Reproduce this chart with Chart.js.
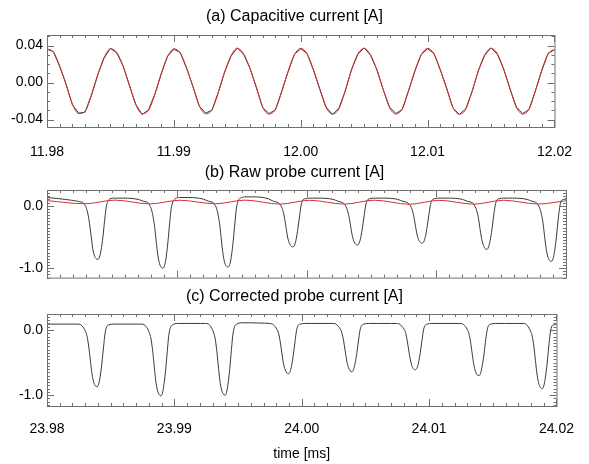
<!DOCTYPE html>
<html>
<head>
<meta charset="utf-8">
<script src="https://cdn.jsdelivr.net/npm/chart.js@4.4.1/dist/chart.umd.min.js"></script>
<style>
html, body { margin: 0; padding: 0; background: #fff; }
#wrap { position: relative; width: 589px; height: 464px; overflow: hidden; }
#wrap canvas { position: absolute; left: 0; }
</style>
</head>
<body>
<div id="wrap">
  <canvas id="chartA" width="589" height="170" style="top:0px"></canvas>
  <canvas id="chartB" width="589" height="130" style="top:160px"></canvas>
  <canvas id="chartC" width="589" height="179" style="top:285px"></canvas>
</div>
<script>
// ---- panel (a): capacitive current, time in ms ----
const timeA = [
  11.9800, 11.9805, 11.9810, 11.9815, 11.9820, 11.9825, 11.9830, 11.9835, 11.9840, 11.9845,
  11.9850, 11.9855, 11.9860, 11.9865, 11.9870, 11.9875, 11.9880, 11.9885, 11.9890, 11.9895,
  11.9900, 11.9905, 11.9910, 11.9915, 11.9920, 11.9925, 11.9930, 11.9935, 11.9940, 11.9945,
  11.9950, 11.9955, 11.9960, 11.9965, 11.9970, 11.9975, 11.9980, 11.9985, 11.9990, 11.9995,
  12.0000, 12.0005, 12.0010, 12.0015, 12.0020, 12.0025, 12.0030, 12.0035, 12.0040, 12.0045,
  12.0050, 12.0055, 12.0060, 12.0065, 12.0070, 12.0075, 12.0080, 12.0085, 12.0090, 12.0095,
  12.0100, 12.0105, 12.0110, 12.0115, 12.0120, 12.0125, 12.0130, 12.0135, 12.0140, 12.0145,
  12.0150, 12.0155, 12.0160, 12.0165, 12.0170, 12.0175, 12.0180, 12.0185, 12.0190, 12.0195,
  12.0200
];
// measured (black, noisy)
const capMeasured = [
  0.0360, 0.0335, 0.0175, -0.0015, -0.0240, -0.0330, -0.0320, -0.0135, 0.0085, 0.0265,
  0.0370, 0.0320, 0.0180, -0.0035, -0.0235, -0.0345, -0.0295, -0.0125, 0.0090, 0.0285,
  0.0360, 0.0325, 0.0155, -0.0040, -0.0255, -0.0330, -0.0300, -0.0105, 0.0115, 0.0285,
  0.0375, 0.0305, 0.0155, -0.0050, -0.0270, -0.0335, -0.0295, -0.0095, 0.0115, 0.0305,
  0.0365, 0.0315, 0.0135, -0.0072, -0.0265, -0.0345, -0.0280, -0.0095, 0.0140, 0.0305,
  0.0375, 0.0295, 0.0140, -0.0078, -0.0265, -0.0335, -0.0290, -0.0085, 0.0125, 0.0305,
  0.0365, 0.0315, 0.0135, -0.0060, -0.0275, -0.0345, -0.0285, -0.0100, 0.0130, 0.0295,
  0.0375, 0.0305, 0.0145, -0.0072, -0.0265, -0.0335, -0.0290, -0.0085, 0.0130, 0.0315,
  0.0355
];
// fitted (red, smooth)
const capFit = [
  0.0365, 0.0330, 0.0180, -0.0020, -0.0230, -0.0335, -0.0310, -0.0140, 0.0080, 0.0270,
  0.0365, 0.0325, 0.0175, -0.0027, -0.0240, -0.0335, -0.0300, -0.0130, 0.0095, 0.0280,
  0.0365, 0.0320, 0.0160, -0.0045, -0.0250, -0.0337, -0.0295, -0.0110, 0.0110, 0.0290,
  0.0370, 0.0310, 0.0150, -0.0055, -0.0265, -0.0340, -0.0290, -0.0100, 0.0120, 0.0300,
  0.0370, 0.0310, 0.0140, -0.0067, -0.0270, -0.0340, -0.0285, -0.0090, 0.0135, 0.0310,
  0.0370, 0.0300, 0.0135, -0.0073, -0.0270, -0.0340, -0.0285, -0.0090, 0.0130, 0.0300,
  0.0370, 0.0310, 0.0140, -0.0065, -0.0270, -0.0340, -0.0290, -0.0095, 0.0125, 0.0300,
  0.0370, 0.0310, 0.0140, -0.0067, -0.0270, -0.0340, -0.0285, -0.0090, 0.0135, 0.0310,
  0.0360
];
const ticksXA = [11.98, 11.99, 12.00, 12.01, 12.02];
const labelsXA = ['11.98', '11.99', '12.00', '12.01', '12.02'];
const ticksYA = [-0.04, 0.00, 0.04];
const labelsYA = ['-0.04', '0.00', '0.04'];

// ---- panels (b) and (c): probe current, time in ms ----
const timeP = [
  23.98000, 23.98140,
  23.98242, 23.98263, 23.98276, 23.98289, 23.98302, 23.98315, 23.98328, 23.98340, 23.98353, 23.98367, 23.98380,
  23.98392, 23.98405, 23.98417, 23.98431, 23.98444, 23.98456, 23.98469, 23.98487, 23.98521, 23.98592, 23.98702,
  23.98743, 23.98764, 23.98777, 23.98790, 23.98803, 23.98816, 23.98829, 23.98841, 23.98854, 23.98868, 23.98881,
  23.98893, 23.98906, 23.98918, 23.98932, 23.98945, 23.98957, 23.98970, 23.98988, 23.99022, 23.99093, 23.99203,
  23.99246, 23.99267, 23.99280, 23.99293, 23.99306, 23.99319, 23.99332, 23.99344, 23.99357, 23.99371, 23.99384,
  23.99396, 23.99409, 23.99421, 23.99435, 23.99448, 23.99460, 23.99473, 23.99491, 23.99525, 23.99596, 23.99706,
  23.99745, 23.99766, 23.99779, 23.99792, 23.99805, 23.99818, 23.99831, 23.99843, 23.99856, 23.99870, 23.99883,
  23.99895, 23.99908, 23.99920, 23.99934, 23.99947, 23.99959, 23.99972, 23.99990, 24.00024, 24.00095, 24.00205,
  24.00243, 24.00264, 24.00277, 24.00290, 24.00303, 24.00316, 24.00329, 24.00341, 24.00354, 24.00368, 24.00381,
  24.00393, 24.00406, 24.00418, 24.00432, 24.00445, 24.00457, 24.00470, 24.00488, 24.00522, 24.00593, 24.00703,
  24.00742, 24.00763, 24.00776, 24.00789, 24.00802, 24.00815, 24.00828, 24.00840, 24.00853, 24.00867, 24.00880,
  24.00892, 24.00905, 24.00917, 24.00931, 24.00944, 24.00956, 24.00969, 24.00987, 24.01021, 24.01092, 24.01202,
  24.01240, 24.01261, 24.01274, 24.01287, 24.01300, 24.01313, 24.01326, 24.01338, 24.01351, 24.01365, 24.01378,
  24.01390, 24.01403, 24.01415, 24.01429, 24.01442, 24.01454, 24.01467, 24.01485, 24.01519, 24.01590, 24.01700,
  24.01737, 24.01758, 24.01771, 24.01784, 24.01797, 24.01810, 24.01823, 24.01835, 24.01848, 24.01862, 24.01875,
  24.01887, 24.01900, 24.01912, 24.01926, 24.01939, 24.01951, 24.01964, 24.01982, 24.02000
];
const rawProbe = [
  0.13, 0.10,
  0.068, 0.058, 0.05, 0.02, -0.03, -0.13, -0.29, -0.48, -0.69, -0.81, -0.85,
  -0.86, -0.82, -0.71, -0.50, -0.24, -0.03, 0.07, 0.11, 0.12, 0.12, 0.10,
  0.07, 0.06, 0.05, 0.01, -0.05, -0.16, -0.33, -0.56, -0.79, -0.93, -0.985,
  -1.00, -0.96, -0.83, -0.58, -0.29, -0.05, 0.06, 0.11, 0.13, 0.13, 0.105,
  0.07, 0.06, 0.05, 0.015, -0.04, -0.15, -0.32, -0.55, -0.78, -0.92, -0.97,
  -0.98, -0.94, -0.81, -0.57, -0.28, -0.04, 0.08, 0.12, 0.14, 0.14, 0.11,
  0.07, 0.06, 0.05, 0.03, -0.01, -0.08, -0.20, -0.36, -0.52, -0.61, -0.65,
  -0.66, -0.63, -0.54, -0.36, -0.16, 0.01, 0.09, 0.11, 0.12, 0.12, 0.10,
  0.07, 0.06, 0.05, 0.03, -0.01, -0.08, -0.19, -0.34, -0.49, -0.58, -0.62,
  -0.63, -0.60, -0.51, -0.34, -0.15, 0.01, 0.09, 0.11, 0.12, 0.12, 0.10,
  0.07, 0.06, 0.05, 0.03, -0.005, -0.07, -0.18, -0.33, -0.47, -0.56, -0.59,
  -0.60, -0.57, -0.49, -0.32, -0.14, 0.02, 0.09, 0.11, 0.12, 0.12, 0.10,
  0.07, 0.06, 0.05, 0.03, -0.015, -0.09, -0.21, -0.38, -0.54, -0.64, -0.69,
  -0.70, -0.66, -0.56, -0.38, -0.17, 0.00, 0.09, 0.11, 0.12, 0.12, 0.10,
  0.07, 0.06, 0.05, 0.015, -0.04, -0.13, -0.28, -0.49, -0.70, -0.83, -0.88,
  -0.89, -0.85, -0.73, -0.50, -0.24, -0.03, 0.08, 0.10, 0.11
];
const correctedProbe = [
  0.09, 0.09,
  0.09, 0.082, 0.061, 0.026, -0.022, -0.10, -0.26, -0.46, -0.67, -0.80, -0.856,
  -0.87, -0.83, -0.72, -0.51, -0.26, -0.05, 0.05, 0.08, 0.09, 0.09, 0.09,
  0.09, 0.081, 0.057, 0.016, -0.039, -0.13, -0.31, -0.54, -0.78, -0.93, -0.99,
  -1.01, -0.97, -0.84, -0.60, -0.31, -0.07, 0.04, 0.08, 0.10, 0.10, 0.10,
  0.10, 0.091, 0.067, 0.026, -0.03, -0.12, -0.30, -0.53, -0.77, -0.92, -0.98,
  -1.00, -0.96, -0.83, -0.59, -0.30, -0.06, 0.05, 0.09, 0.11, 0.11, 0.105,
  0.10, 0.094, 0.077, 0.05, 0.01, -0.05, -0.18, -0.34, -0.51, -0.61, -0.66,
  -0.67, -0.64, -0.55, -0.38, -0.18, -0.01, 0.07, 0.09, 0.10, 0.10, 0.10,
  0.10, 0.094, 0.078, 0.05, 0.013, -0.05, -0.17, -0.32, -0.48, -0.58, -0.63,
  -0.64, -0.61, -0.52, -0.36, -0.17, -0.01, 0.07, 0.09, 0.10, 0.10, 0.10,
  0.10, 0.094, 0.079, 0.05, 0.017, -0.04, -0.16, -0.31, -0.46, -0.56, -0.60,
  -0.61, -0.58, -0.50, -0.34, -0.16, 0.00, 0.07, 0.09, 0.10, 0.10, 0.10,
  0.10, 0.094, 0.076, 0.05, 0.006, -0.06, -0.19, -0.36, -0.53, -0.64, -0.69,
  -0.70, -0.67, -0.57, -0.40, -0.19, -0.02, 0.07, 0.09, 0.10, 0.10, 0.10,
  0.10, 0.092, 0.07, 0.03, -0.02, -0.10, -0.26, -0.47, -0.69, -0.83, -0.885,
  -0.90, -0.86, -0.74, -0.52, -0.26, -0.05, 0.06, 0.08, 0.09
];
// capacitive part seen by the probe (red in b)
const timeCapB = [
  23.98000, 23.98292, 23.98522, 23.98793, 23.99023, 23.99296, 23.99526, 23.99795, 24.00025,
  24.00293, 24.00523, 24.00792, 24.01022, 24.01290, 24.01520, 24.01787, 24.02000
];
const capProbe = [
  0.080, 0.030, 0.088, 0.028, 0.086, 0.030, 0.088, 0.025, 0.085,
  0.025, 0.087, 0.022, 0.085, 0.024, 0.086, 0.026, 0.078
];
const ticksXP = [23.98, 23.99, 24.00, 24.01, 24.02];
const labelsXP = ['23.98', '23.99', '24.00', '24.01', '24.02'];
const ticksYP = [-1.0, 0.0];
const labelsYP = ['-1.0', '0.0'];

const FONT = '"Liberation Sans", Arial, Helvetica, sans-serif';
const BLACK = '#3a3a3a';
const RED = 'rgb(214,48,48)';

const pts = (xs, ys) => xs.map((x, i) => ({ x: x, y: ys[i] }));

// centred panel title
const panelTitle = {
  id: 'panelTitle',
  afterDraw(chart, args, opts) {
    const ctx = chart.ctx;
    ctx.save();
    ctx.font = '16px ' + FONT;
    ctx.fillStyle = '#000';
    ctx.textAlign = 'center';
    ctx.textBaseline = 'middle';
    ctx.fillText(opts.text, chart.width / 2, opts.y);
    ctx.restore();
  }
};

// box round the plot with inward ticks on all four sides
const idlFrame = {
  id: 'idlFrame',
  afterDatasetsDraw(chart, args, opts) {
    const { ctx, chartArea: a, scales: { x, y } } = chart;
    ctx.save();
    ctx.strokeStyle = '#707070';
    ctx.lineWidth = 1;
    ctx.strokeRect(a.left + 0.5, a.top + 0.5, a.right - a.left, a.bottom - a.top);
    ctx.beginPath();
    for (let i = 0; i <= 40; i++) {
      const px = Math.round(x.getPixelForValue(x.min + i * 0.001)) + 0.5;
      const len = i % 10 === 0 ? 7 : 3;
      ctx.moveTo(px, a.top); ctx.lineTo(px, a.top + len);
      ctx.moveTo(px, a.bottom); ctx.lineTo(px, a.bottom - len);
    }
    const k0 = Math.ceil(y.min / opts.yStep - 1e-6), k1 = Math.floor(y.max / opts.yStep + 1e-6);
    for (let k = k0; k <= k1; k++) {
      const py = Math.round(y.getPixelForValue(k * opts.yStep)) + 0.5;
      const len = k % opts.yMajor === 0 ? 7 : 3;
      ctx.moveTo(a.left, py); ctx.lineTo(a.left + len, py);
      ctx.moveTo(a.right, py); ctx.lineTo(a.right - len, py);
    }
    ctx.stroke();
    ctx.restore();
  }
};

function makeChart(id, cfg) {
  const xScale = {
    type: 'linear', position: 'bottom', min: cfg.xMin, max: cfg.xMax,
    grid: { display: false, drawTicks: false }, border: { display: false },
    afterBuildTicks: s => { s.ticks = cfg.xTicks.map(v => ({ value: v })); },
    afterFit: s => { s.height = cfg.xHeight; },
    ticks: {
      display: cfg.xLabels !== null, padding: cfg.xPad, color: '#000', autoSkip: false, maxRotation: 0,
      font: { family: FONT, size: 14 },
      callback: (v, i) => cfg.xLabels ? cfg.xLabels[i] : ''
    },
    title: cfg.xTitle ? {
      display: true, text: cfg.xTitle, color: '#000',
      font: { family: FONT, size: 14 }, padding: { top: 0, bottom: 1 }
    } : { display: false }
  };
  const yScale = {
    type: 'linear', min: cfg.yMin, max: cfg.yMax,
    grid: { display: false, drawTicks: false }, border: { display: false },
    afterBuildTicks: s => { s.ticks = cfg.yTicks.map(v => ({ value: v })); },
    afterFit: s => { s.width = 47; },
    ticks: {
      padding: 4, color: '#000', font: { family: FONT, size: 14 },
      callback: (v, i) => cfg.yLabels[i]
    }
  };
  return new Chart(document.getElementById(id), {
    type: 'line',
    data: { datasets: cfg.datasets },
    options: {
      responsive: false,
      animation: false,
      layout: { padding: { left: 0, right: 23, top: cfg.top, bottom: 0 } },
      elements: { point: { radius: 0 } },
      scales: { x: xScale, y: yScale },
      plugins: {
        legend: { display: false },
        tooltip: { enabled: false },
        panelTitle: { text: cfg.title, y: cfg.titleY },
        idlFrame: { yStep: cfg.yStep, yMajor: cfg.yMajor }
      }
    },
    plugins: [panelTitle, idlFrame]
  });
}

makeChart('chartA', {
  title: '(a) Capacitive current [A]', titleY: 17, top: 35,
  xMin: 11.98, xMax: 12.02, xTicks: ticksXA, xLabels: labelsXA, xHeight: 43, xPad: 17,
  yMin: -0.048, yMax: 0.0514, yTicks: ticksYA, yLabels: labelsYA, yStep: 0.01, yMajor: 4,
  datasets: [
    { data: pts(timeA, capFit), borderColor: RED, borderWidth: 1, cubicInterpolationMode: 'monotone', order: 1 },
    { data: pts(timeA, capMeasured), borderColor: BLACK, borderWidth: 1, tension: 0, order: 2 }
  ]
});

makeChart('chartB', {
  title: '(b) Raw probe current [A]', titleY: 13, top: 30,
  xMin: 23.98, xMax: 24.02, xTicks: ticksXP, xLabels: null, xHeight: 8, xPad: 0,
  yMin: -1.15, yMax: 0.25, yTicks: ticksYP, yLabels: labelsYP, yStep: 0.05, yMajor: 20,
  datasets: [
    { data: pts(timeCapB, capProbe), borderColor: RED, borderWidth: 1, cubicInterpolationMode: 'monotone', order: 1 },
    { data: pts(timeP, rawProbe), borderColor: BLACK, borderWidth: 1, cubicInterpolationMode: 'monotone', order: 2 }
  ]
});

makeChart('chartC', {
  title: '(c) Corrected probe current [A]', titleY: 12, top: 29,
  xMin: 23.98, xMax: 24.02, xTicks: ticksXP, xLabels: labelsXP, xHeight: 58, xPad: 15,
  xTitle: 'time [ms]',
  yMin: -1.165, yMax: 0.245, yTicks: ticksYP, yLabels: labelsYP, yStep: 0.05, yMajor: 20,
  datasets: [
    { data: pts(timeP, correctedProbe), borderColor: BLACK, borderWidth: 1, cubicInterpolationMode: 'monotone' }
  ]
});
</script>
</body>
</html>
